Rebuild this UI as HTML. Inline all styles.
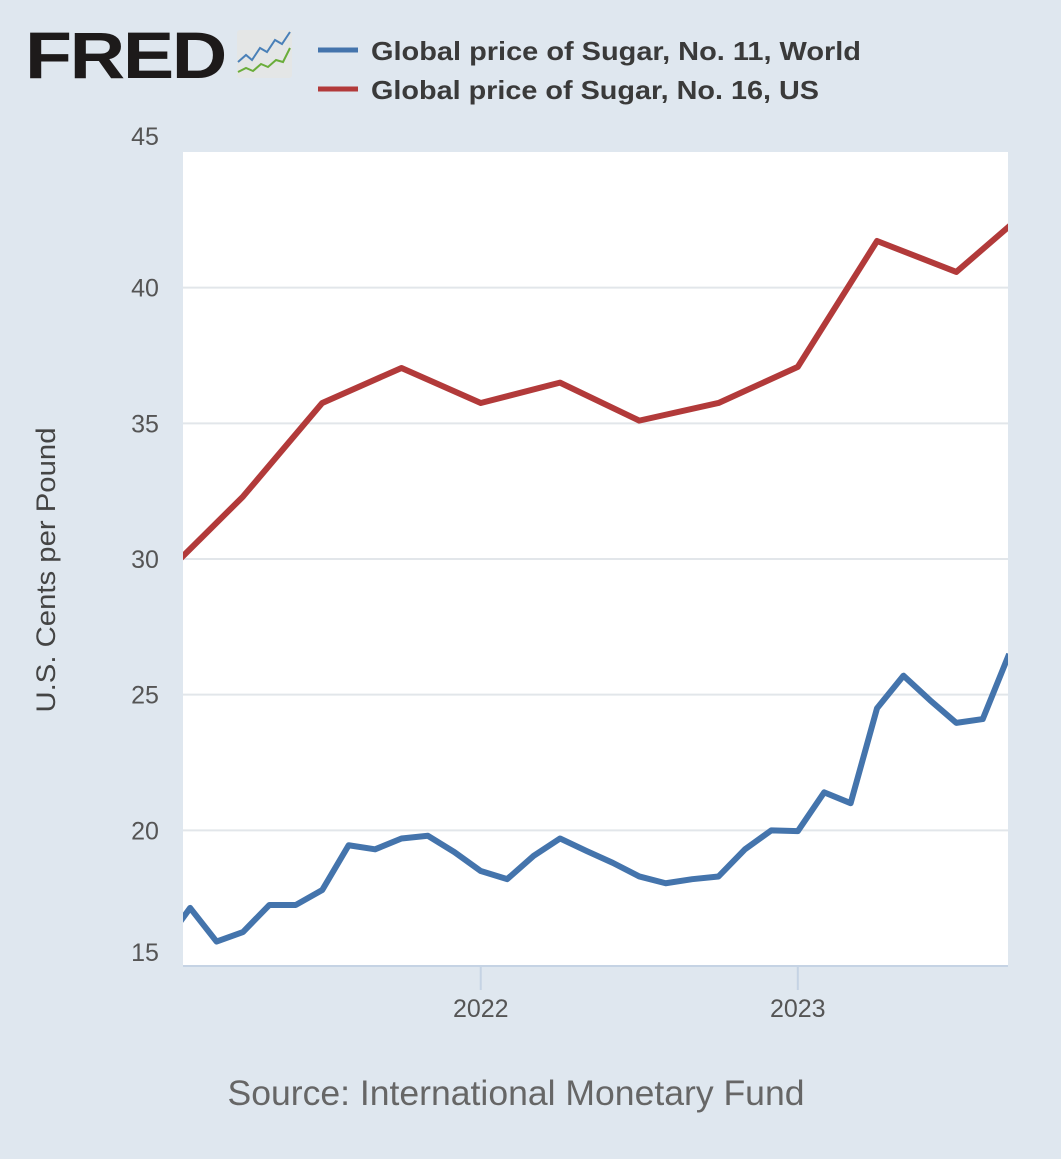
<!DOCTYPE html>
<html><head><meta charset="utf-8"><style>
body{margin:0;background:#dfe7ef;}
svg{display:block;font-family:"Liberation Sans",sans-serif;}
</style></head><body>
<svg id="chart" width="1061" height="1159" viewBox="0 0 1061 1159">
<rect x="0" y="0" width="1061" height="1159" fill="#dfe7ef"/>
<g>
<text x="25" y="78" font-size="66" font-weight="bold" fill="#1d1a1a" textLength="200" lengthAdjust="spacingAndGlyphs" style="letter-spacing:-2px">FRED</text>
<rect x="237" y="30" width="55" height="48" rx="3" fill="#e4e6e6"/>
<polyline points="238,62 246,55 252,60 260,48 267,52 275,40 282,44 290,32" fill="none" stroke="#4a80b8" stroke-width="2"/>
<polyline points="238,72 246,68 253,71 261,64 268,67 276,60 283,62 290,48" fill="none" stroke="#6aad3a" stroke-width="2"/>
</g>
<g>
<line x1="318" y1="50" x2="358" y2="50" stroke="#4474ac" stroke-width="5"/>
<text x="371" y="60" font-size="26" font-weight="bold" fill="#3a3a3a" textLength="490" lengthAdjust="spacingAndGlyphs">Global price of Sugar, No. 11, World</text>
<line x1="318" y1="89" x2="358" y2="89" stroke="#b23a3a" stroke-width="5"/>
<text x="371" y="99" font-size="26" font-weight="bold" fill="#3a3a3a" textLength="448" lengthAdjust="spacingAndGlyphs">Global price of Sugar, No. 16, US</text>
</g>
<rect x="183" y="152" width="825" height="814" fill="#ffffff"/>
<g id="grid"></g>
<g id="yt"></g>
<g id="xt"></g>
<defs><clipPath id="clip"><rect x="183" y="140" width="825" height="826"/></clipPath></defs>
<g id="lines" clip-path="url(#clip)"></g>
<text x="45" y="560" font-size="27" fill="#444" text-anchor="middle" transform="rotate(-90 55 560)" textLength="285" lengthAdjust="spacingAndGlyphs">U.S. Cents per Pound</text>
<text x="516" y="1105" font-size="35" fill="#666" text-anchor="middle" textLength="577" lengthAdjust="spacingAndGlyphs">Source: International Monetary Fund</text>
</svg>
<script>
// month index 0 = Jan 2021
const worldMonths = [0,1,2,3,4,5,6,7,8,9,10,11,12,13,14,15,16,17,18,19,20,21,22,23,24,25,26,27,28,29,30,31,32];
const worldValues = [15.8,17.14,15.9,16.25,17.25,17.25,17.8,19.45,19.3,19.7,19.8,19.2,18.5,18.2,19.06,19.7,19.24,18.8,18.3,18.05,18.2,18.3,19.3,20.0,19.97,21.4,21.0,24.5,25.7,24.8,23.96,24.1,26.5];
const usMonths = [0,3,6,9,12,15,18,21,24,27,30,33];
const usValues = [29.4,32.3,35.75,37.04,35.75,36.5,35.1,35.75,37.08,41.72,40.58,43.1];
const yTicks = [15,20,25,30,35,40,45];
const xTickMonths = [12,24];
const xTickLabels = ["2022","2023"];

const NS="http://www.w3.org/2000/svg";
const X0=183,X1=1008,Y0=966,Y1=152;
const M0=0.73,MSTEP=26.42;
function xs(m){return X0+(m-M0)*MSTEP;}
function ys(v){return Y0-(v-15)/(45-15)*(Y0-Y1);}
function mk(tag,attrs,parent){const e=document.createElementNS(NS,tag);for(const k in attrs)e.setAttribute(k,attrs[k]);parent.appendChild(e);return e;}
const grid=document.getElementById('grid'),yt=document.getElementById('yt'),xt=document.getElementById('xt'),lines=document.getElementById('lines');
yTicks.forEach(v=>{
  if(v>15&&v<45){const g=mk('line',{x1:X0,x2:X1,y1:ys(v),y2:ys(v),stroke:'#e2e6ea','stroke-width':2},grid);
  
  }
  const t=mk('text',{x:145,y:ys(v)+(v===45?-7:v===15?-5:9),'font-size':25,fill:'#555','text-anchor':'middle'},yt);
  t.textContent=v;
  
  
});
const ax=mk('line',{x1:X0,x2:X1,y1:Y0,y2:Y0,stroke:'#c5d3e4','stroke-width':2},xt);


xTickMonths.forEach((m,i)=>{
  const l=mk('line',{x1:xs(m),x2:xs(m),y1:Y0,y2:Y0+24,stroke:'#c5d3e4','stroke-width':2},xt);
  
  
  const t=mk('text',{x:xs(m),y:1017,'font-size':25,fill:'#555','text-anchor':'middle'},xt);
  t.textContent=xTickLabels[i];
  
  
});
function draw(ms,vs,color,name){
  const p=mk('polyline',{points:ms.map((m,i)=>xs(m)+','+ys(vs[i])).join(' '),fill:'none',stroke:color,'stroke-width':6,'stroke-linejoin':'round'},lines);
  
  
}
draw(usMonths,usValues,'#b23a3a','series-us-no16');
draw(worldMonths,worldValues,'#4474ac','series-world-no11');
</script>
</body></html>
